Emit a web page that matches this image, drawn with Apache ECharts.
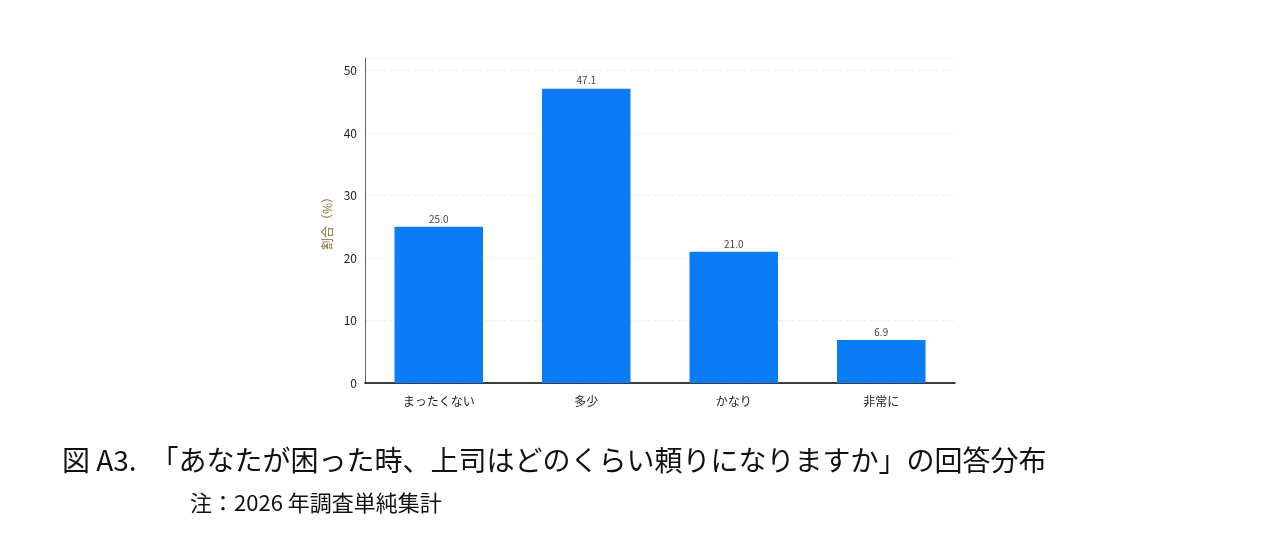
<!DOCTYPE html>
<html><head><meta charset="utf-8">
<script src="https://cdn.jsdelivr.net/npm/echarts@6/dist/echarts.min.js"></script>
<style>body{margin:0;background:#fff}#c{width:1272px;height:556px}</style>
</head><body><div id="c"></div>
<script>
const categories = ['まったくない', '多少', 'かなり', '非常に'];
const values = [25.0, 47.1, 21.0, 6.9];
const yTicks = [0, 10, 20, 30, 40, 50];
const chart = echarts.init(document.getElementById('c'));
chart.setOption({
  animation: false,
  backgroundColor: '#fff',
  textStyle: { fontFamily: 'Noto Sans CJK JP' },
  graphic: [
    { type: 'text', left: 62, top: 446, style: { text: '図 A3.　「あなたが困った時、上司はどのくらい頼りになりますか」の回答分布', fontSize: 28, fill: '#111', fontFamily: 'Noto Sans CJK JP' } },
    { type: 'text', left: 190, top: 492, style: { text: '注：2026 年調査単純集計', fontSize: 22, fill: '#111', fontFamily: 'Noto Sans CJK JP' } }
  ],
  grid: { left: 365, right: 317, top: 58, bottom: 173 },
  xAxis: {
    type: 'category', data: categories,
    axisLine: { lineStyle: { color: '#000', width: 1.5 } },
    axisTick: { show: false },
    axisLabel: { color: '#222', fontSize: 12, margin: 12 }
  },
  yAxis: {
    type: 'value', min: 0, max: 52, interval: 10,
    name: '割合（%）', nameLocation: 'middle', nameGap: 32,
    nameTextStyle: { color: '#8a6a2a', fontSize: 12 },
    axisLine: { show: true, lineStyle: { color: '#666' } },
    axisTick: { show: false },
    axisLabel: { color: '#222', fontSize: 12, showMaxLabel: false,
      formatter: v => yTicks.includes(v) ? String(v) : '' },
    splitLine: { lineStyle: { color: '#eee', type: 'dashed' } }
  },
  series: [{
    type: 'bar', data: values, barWidth: '60%',
    itemStyle: { color: '#0a7cf5' },
    label: { show: true, position: 'top', distance: 3, color: '#444', fontSize: 10,
      formatter: p => p.value.toFixed(1) }
  }]
});
</script></body></html>
